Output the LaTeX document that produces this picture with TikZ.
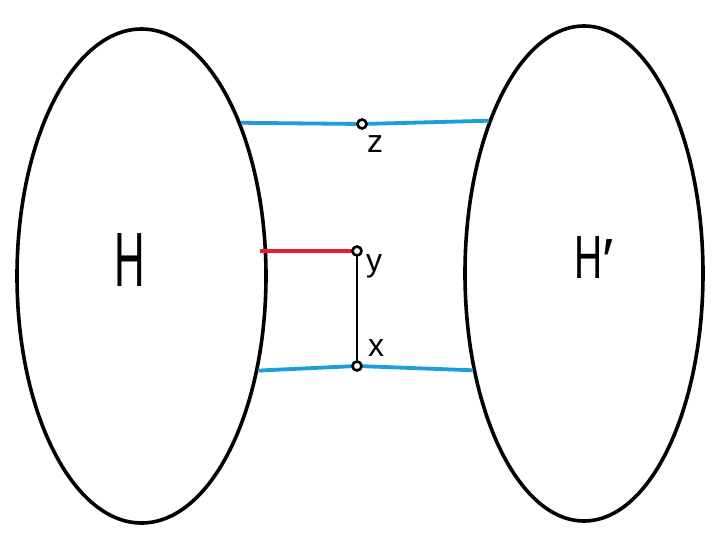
\documentclass[tikz,border=0pt]{standalone}
\usepackage{fontspec}
\setmainfont{Liberation Sans}
\usetikzlibrary{shapes.geometric,calc}
\definecolor{edgeblue}{RGB}{28,158,218}
\definecolor{edgered}{RGB}{232,28,48}
\tikzset{
  blob/.style={ellipse, draw=black, line width=3.6pt, inner sep=0pt},
  vtx/.style={circle, draw=black, fill=white, line width=2.6pt, inner sep=0pt, minimum size=9pt},
  blueedge/.style={draw=edgeblue, line width=3.8pt},
  rededge/.style={draw=edgered, line width=3.8pt},
  blackedge/.style={draw=black, line width=2.4pt},
  biglabel/.style={inner sep=0pt, font=\fontsize{77}{80}\selectfont},
  smalllabel/.style={inner sep=0pt, font=\fontsize{32}{34}\selectfont}
}
\begin{document}
\begin{tikzpicture}[x=1pt,y=-1pt]
\useasboundingbox (0,0) rectangle (726,536);
\fill[white] (0,0) rectangle (726,536);
\node[blob, minimum width=249pt, minimum height=494pt] (H) at (141.5,276) {};
\node[blob, minimum width=238pt, minimum height=495pt] (Hp) at (584,273.5) {};
\coordinate (z) at (362,124);
\coordinate (y) at (357,251);
\coordinate (x) at (357,366);
\draw[blueedge] (H.57.4) -- (z) -- (Hp.122.1);
\draw[rededge] ($(H.east |- y)+(-8,0)$) -- (y);
\draw[blueedge] (H.-39.9) -- (x) -- (Hp.221.4);
\draw[blackedge] (y) -- (x);
\node[vtx] (vz) at (z) {};
\node[vtx] (vy) at (y) {};
\node[vtx] (vx) at (x) {};
\node[biglabel] (lH) at (130,260) {\scalebox{0.55}[1]{H}};
\node[biglabel, font=\fontsize{61}{64}\selectfont, anchor=center] (lHp) at (594,259) {\scalebox{0.64}[1]{H}\raisebox{-0.05em}{′}};
\node[smalllabel] (lz) at (375,144) {z};
\node[smalllabel] (ly) at (374,266) {y};
\node[smalllabel] (lx) at (376,348) {x};
\end{tikzpicture}
\end{document}
